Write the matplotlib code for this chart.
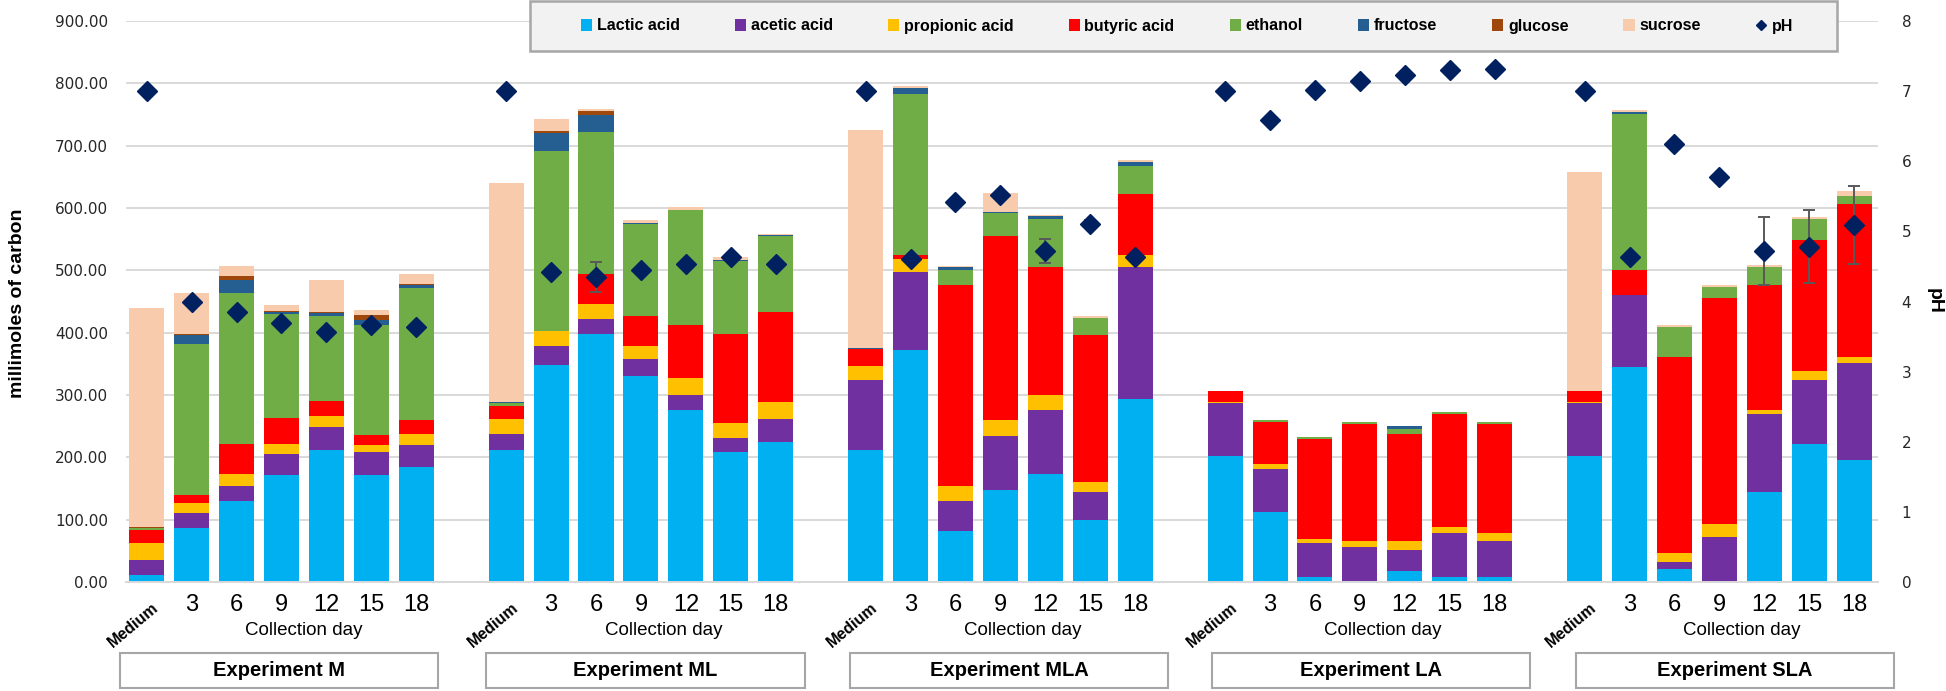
"""
Stacked carbon products per collection day for five fermentation
experiments, with pH on a secondary axis.
"""

import numpy as np
import matplotlib
matplotlib.use("Agg")
import matplotlib.pyplot as plt
import matplotlib.transforms as mtransforms
from matplotlib.patches import Rectangle, Patch
from matplotlib.lines import Line2D

plt.rcParams['font.family'] = ['Liberation Sans', 'DejaVu Sans']

# ---------------------------------------------------------------- data
experiments = ["Experiment M", "Experiment ML", "Experiment MLA",
               "Experiment LA", "Experiment SLA"]
days = ["Medium", "3", "6", "9", "12", "15", "18"]

components = ["Lactic acid", "acetic acid", "propionic acid", "butyric acid",
              "ethanol", "fructose", "glucose", "sucrose"]

# millimoles of carbon, 7 values per experiment (Medium, 3 ... 18)
lactic = [11, 86, 130, 171, 212, 171, 184,        # M
          212, 348, 398, 330, 276, 209, 225,      # ML
          212, 372, 82, 147, 173, 100, 293,       # MLA
          202, 113, 8, 1, 17, 8, 8,               # LA
          202, 345, 21, 0, 144, 222, 195]         # SLA
acetic = [24, 24, 24, 34, 37, 38, 35,
          26, 30, 24, 27, 24, 22, 37,
          112, 126, 48, 88, 103, 44, 212,
          85, 69, 54, 55, 35, 71, 58,
          85, 115, 11, 72, 126, 102, 156]
propionic = [27, 17, 19, 17, 17, 10, 19,
             24, 24, 24, 21, 27, 24, 27,
             23, 20, 24, 25, 24, 17, 19,
             2, 7, 7, 9, 13, 9, 13,
             2, 1, 14, 21, 6, 14, 10]
butyric = [21, 13, 49, 41, 24, 17, 22,
           21, 1, 48, 48, 86, 143, 144,
           26, 6, 322, 295, 205, 235, 99,
           18, 67, 161, 188, 173, 182, 174,
           18, 40, 315, 363, 200, 210, 246]
ethanol = [3, 242, 242, 167, 137, 177, 211,
           4, 289, 228, 149, 183, 117, 122,
           1, 259, 25, 37, 77, 27, 44,
           0, 4, 2, 3, 8, 2, 3,
           0, 250, 48, 18, 29, 34, 13]
fructose = [1, 14, 20, 3, 5, 7, 6,
            1, 29, 27, 1, 1, 1, 1,
            1, 10, 4, 1, 5, 0, 7,
            0, 0, 0, 0, 4, 0, 0,
            0, 3, 0, 0, 0, 0, 0]
glucose = [2, 2, 7, 1, 1, 9, 1,
           1, 2, 6, 0, 0, 0, 0,
           0, 0, 0, 0, 0, 0, 0,
           0, 0, 0, 0, 0, 0, 0,
           0, 0, 0, 0, 0, 0, 0]
sucrose = [350, 66, 16, 10, 51, 7, 16,
           351, 20, 4, 4, 4, 6, 3,
           350, 3, 2, 31, 2, 3, 3,
           0, 0, 0, 0, 0, 0, 0,
           350, 3, 4, 2, 3, 4, 7]

ph = [7.0, 3.99, 3.85, 3.70, 3.57, 3.66, 3.64,
      7.0, 4.42, 4.35, 4.45, 4.54, 4.64, 4.54,
      7.0, 4.60, 5.42, 5.52, 4.72, 5.11, 4.64,
      7.0, 6.59, 7.02, 7.14, 7.23, 7.30, 7.32,
      7.0, 4.64, 6.24, 5.78, 4.72, 4.78, 5.09]
ph_err = [0, 0, 0, 0.04, 0, 0, 0,
          0, 0, 0.21, 0, 0, 0, 0,
          0, 0, 0, 0, 0.17, 0.05, 0,
          0, 0.04, 0, 0, 0, 0, 0,
          0, 0, 0, 0, 0.48, 0.52, 0.56]

colors = ["#00B0F0", "#7030A0", "#FFC000", "#FF0000",
          "#70AD47", "#255E91", "#9E480E", "#F8CBAD"]
ph_color = "#002060"

# ---------------------------------------------------------------- figure
W, H = 1946, 691
fig = plt.figure(figsize=(W / 100, H / 100), dpi=100)
ax = fig.add_axes([126 / W, 1 - 582 / H, (1878 - 126) / W, (582 - 21) / H])

# one empty slot between the experiment groups
xpos = np.array([8 * g + i for g in range(len(experiments))
                 for i in range(len(days))])

series = [lactic, acetic, propionic, butyric, ethanol, fructose, glucose,
          sucrose]
bottom = np.zeros(len(xpos))
for vals, col, name in zip(series, colors, components):
    vals = np.array(vals, dtype=float)
    ax.bar(xpos, vals, width=0.78, bottom=bottom, color=col,
           linewidth=0, label=name, zorder=2)
    bottom += vals

ax.set_xlim(-0.46, 38.53)
ax.set_ylim(0, 900)
ax.set_yticks(np.arange(0, 901, 100))
ax.set_yticklabels([f"{v:.2f}" for v in range(0, 901, 100)],
                   family="DejaVu Sans", fontsize=11, color="#262626")
ax.tick_params(axis="y", length=0, pad=13)
ax.set_xticks([])
ax.yaxis.grid(True, color="#D9D9D9", linewidth=1.4)
ax.set_axisbelow(True)
for side in ["top", "left", "right"]:
    ax.spines[side].set_visible(False)
ax.spines["bottom"].set_color("#D9D9D9")
ax.spines["bottom"].set_linewidth(1.4)

# pH axis
ax2 = ax.twinx()
ax2.set_ylim(0, 8)
ax2.set_yticks(range(0, 9))
ax2.set_yticklabels([str(v) for v in range(0, 9)],
                    family="DejaVu Sans", fontsize=11, color="#262626")
ax2.tick_params(axis="y", length=0, pad=17)
for side in ax2.spines:
    ax2.spines[side].set_visible(False)

ph = np.array(ph)
ph_err = np.array(ph_err)
has_err = ph_err > 0
ax2.errorbar(xpos[has_err], ph[has_err], yerr=ph_err[has_err], fmt="none",
             ecolor="#595959", elinewidth=1.4, capsize=4.5, capthick=1.4,
             zorder=3)
ax2.plot(xpos, ph, "D", color=ph_color, markersize=10.5, linestyle="none",
         zorder=4)

# category labels below the axis
trans = mtransforms.blended_transform_factory(ax.transData, fig.transFigure)
for g, exp in enumerate(experiments):
    base = 8 * g
    ax.text(base + 0.12, 1 - 600 / H, days[0], transform=trans,
            rotation=40, rotation_mode="anchor", ha="right", va="top",
            fontsize=11.5, fontweight="bold", clip_on=False)
    for i, d in enumerate(days[1:], start=1):
        ax.text(base + i, 1 - 611 / H, d, transform=trans, ha="center",
                va="baseline", fontsize=17, clip_on=False)
    ax.text(base + 3.5, 1 - 635 / H, "Collection day", transform=trans,
            ha="center", va="baseline", fontsize=13.5, clip_on=False)

box_centers = [2.95, 11.1, 19.2, 27.25, 35.35]
for cx, exp in zip(box_centers, experiments):
    ax.add_patch(Rectangle((cx - 3.54, 1 - 688 / H), 7.08, 35 / H,
                           transform=trans, facecolor="white",
                           edgecolor="#A6A6A6", linewidth=1.5,
                           clip_on=False))
    ax.text(cx, 1 - 671 / H, exp, transform=trans, ha="center", va="center",
            fontsize=14.5, fontweight="bold", clip_on=False)

# axis titles
fig.text(18 / W, 1 - 303 / H, "millimoles of carbon", rotation=90,
         ha="center", va="center", fontsize=14, fontweight="bold")
fig.text(1934 / W, 1 - 301 / H, "pH", rotation=270,
         ha="center", va="center", fontsize=14, fontweight="bold")

# legend: grey frame drawn as a figure patch, entries spread inside it
fig.add_artist(Rectangle((530 / W, 1 - 51 / H), 1307 / W, 50 / H,
                         transform=fig.transFigure, facecolor="#F2F2F2",
                         edgecolor="#A6A6A6", linewidth=1.8, zorder=4))
handles = [Patch(facecolor=c, edgecolor="none") for c in colors]
handles.append(Line2D([], [], marker="D", color=ph_color, linestyle="none",
                      markersize=5))
labels = components + ["pH"]
fig.legend(handles, labels, loc="center",
           bbox_to_anchor=(581 / W, 1 - 46 / H, (1793 - 581) / W, 40 / H),
           mode="expand", ncol=9, frameon=False, borderpad=0,
           borderaxespad=0, handlelength=0.7, handleheight=0.7,
           handletextpad=0.3, prop={"weight": "bold", "size": 11.5})

fig.savefig("out.png", dpi=100)
